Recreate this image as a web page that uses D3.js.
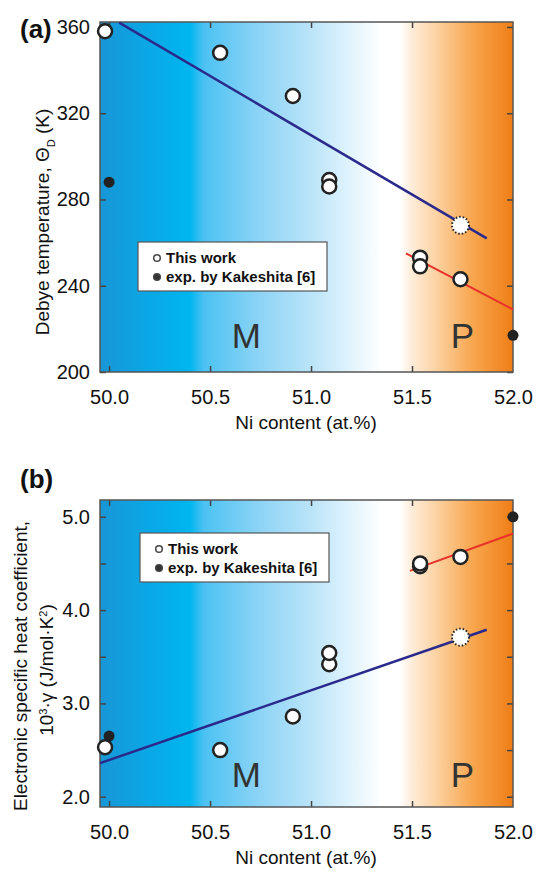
<!DOCTYPE html>
<html>
<head>
<meta charset="utf-8">
<script src="https://cdn.jsdelivr.net/npm/d3@7"></script>
<style>
  body { margin: 0; background: #fff; }
  svg { display: block; font-family: "Liberation Sans", Arial, sans-serif; }
</style>
</head>
<body>
<div id="chart"></div>
<script>
// données : [Ni at.%, valeur]
const niTicks = [50.0, 50.5, 51.0, 51.5, 52.0];

// (a) température de Debye
const thetaTicks = [200, 240, 280, 320, 360];
const thetaThisWork = [[49.98, 358], [50.55, 348], [50.91, 328], [51.09, 289], [51.09, 286],
                       [51.54, 253], [51.54, 249], [51.74, 243]];
const thetaEstimate = [[51.74, 268]];
const thetaKakeshita = [[50.0, 288], [52.0, 217]];
const thetaFitM = [[50.05, 362], [51.87, 262]];
const thetaFitP = [[51.47, 255], [52.0, 229]];

// (b) coefficient de chaleur spécifique électronique
const gammaTicks = [2.0, 2.5, 3.0, 3.5, 4.0, 4.5, 5.0];
const gammaThisWork = [[49.98, 2.53], [50.55, 2.50], [50.91, 2.86], [51.09, 3.42], [51.09, 3.54],
                       [51.54, 4.47], [51.54, 4.50], [51.74, 4.57]];
const gammaEstimate = [[51.74, 3.71]];
const gammaKakeshita = [[50.0, 2.65], [52.0, 5.0]];
const gammaFitM = [[49.955, 2.36], [51.87, 3.79]];
const gammaFitP = [[51.49, 4.42], [52.0, 4.82]];

const legendLabels = ["This work", "exp. by Kakeshita [6]"];

const width = 536, height = 873;
const svg = d3.select("#chart").append("svg")
  .attr("width", width).attr("height", height);

// dégradé martensite (bleu) -> austénite (orange), positions en Ni %
const gradStops = [
  [49.955, "#1896d6"], [50.2, "#0aa8e6"], [50.4, "#00b6ef"], [50.47, "#4cc2f2"],
  [50.75, "#8ed4f6"], [51.0, "#bae4f9"], [51.2, "#e2f4fd"], [51.35, "#ffffff"],
  [51.44, "#ffffff"], [51.5, "#feecd8"], [51.62, "#fcd2a2"], [51.8, "#f8a64e"],
  [52.0, "#ef7e16"]
];

function drawPanel(cfg) {
  const x = d3.scaleLinear().domain([49.955, 52.0]).range([100, 513]);
  const y = d3.scaleLinear().domain(cfg.yDomain).range([cfg.bottom, cfg.top]);
  const g = svg.append("g");

  const grad = svg.append("defs").append("linearGradient")
    .attr("id", cfg.id + "-grad")
    .attr("gradientUnits", "userSpaceOnUse")
    .attr("x1", x.range()[0]).attr("x2", x.range()[1]).attr("y1", 0).attr("y2", 0);
  grad.selectAll("stop").data(gradStops).join("stop")
    .attr("offset", d => (x(d[0]) - x.range()[0]) / (x.range()[1] - x.range()[0]))
    .attr("stop-color", d => d[1]);

  g.append("rect")
    .attr("x", x.range()[0]).attr("y", cfg.top)
    .attr("width", x.range()[1] - x.range()[0]).attr("height", cfg.bottom - cfg.top)
    .attr("fill", `url(#${cfg.id}-grad)`);

  // ticks vers l'intérieur
  const tickLen = 6;
  const axisStyle = sel => {
    sel.select(".domain").remove();
    sel.selectAll("line").attr("stroke", "#444").attr("stroke-width", 1.5);
    sel.selectAll("text").attr("font-size", 20).attr("fill", "#111");
  };
  g.append("g").attr("transform", `translate(0,${cfg.bottom})`)
    .call(d3.axisBottom(x).tickValues(niTicks).tickSizeInner(-tickLen).tickPadding(18)
      .tickFormat(d3.format(".1f")))
    .call(axisStyle)
    .call(sel => sel.selectAll(".tick").filter(d => d === 52.0).select("line").remove());
  g.append("g").attr("transform", `translate(0,${cfg.top})`)
    .call(d3.axisTop(x).tickValues(niTicks.slice(0, 4)).tickSizeInner(-tickLen).tickFormat(""))
    .call(axisStyle);
  g.append("g").attr("transform", `translate(${x.range()[0]},0)`)
    .call(d3.axisLeft(y).tickValues(cfg.yTicks).tickSizeInner(-tickLen).tickPadding(10)
      .tickFormat(d => cfg.yLabels.includes(d) ? cfg.yFormat(d) : ""))
    .call(axisStyle);
  g.append("g").attr("transform", `translate(${x.range()[1]},0)`)
    .call(d3.axisRight(y).tickValues(cfg.yTicks).tickSizeInner(-tickLen).tickFormat(""))
    .call(axisStyle);

  g.append("rect")
    .attr("x", x.range()[0]).attr("y", cfg.top)
    .attr("width", x.range()[1] - x.range()[0]).attr("height", cfg.bottom - cfg.top)
    .attr("fill", "none").attr("stroke", "#555").attr("stroke-width", 1.5);

  // étiquettes de phase
  g.append("text").attr("x", x(50.68)).attr("y", y(cfg.phaseY))
    .attr("text-anchor", "middle").attr("font-size", 35).attr("fill", "#333").text("M");
  g.append("text").attr("x", x(51.75)).attr("y", y(cfg.phaseY))
    .attr("text-anchor", "middle").attr("font-size", 35).attr("fill", "#333").text("P");

  // droites d'ajustement
  const line = d3.line().x(d => x(d[0])).y(d => y(d[1]));
  g.append("path").datum(cfg.fitM).attr("d", line)
    .attr("fill", "none").attr("stroke", "#2a2a8c").attr("stroke-width", 2.5);
  g.append("path").datum(cfg.fitP).attr("d", line)
    .attr("fill", "none").attr("stroke", "#e8322a").attr("stroke-width", 2);

  // points
  g.selectAll(null).data(cfg.kakeshita).join("circle")
    .attr("cx", d => x(d[0])).attr("cy", d => y(d[1])).attr("r", 5.5).attr("fill", "#222");
  g.selectAll(null).data(cfg.thisWork).join("circle")
    .attr("cx", d => x(d[0])).attr("cy", d => y(d[1])).attr("r", 7)
    .attr("fill", "#fff").attr("stroke", "#222").attr("stroke-width", 2.5);
  g.selectAll(null).data(cfg.estimate).join("circle")
    .attr("cx", d => x(d[0])).attr("cy", d => y(d[1])).attr("r", 8.5)
    .attr("fill", "#fff").attr("stroke", "#222").attr("stroke-width", 2)
    .attr("stroke-dasharray", "1.5,2");

  // légende
  const lg = g.append("g").attr("transform", `translate(${cfg.legend[0]},${cfg.legend[1]})`);
  lg.append("rect").attr("width", 189).attr("height", 49)
    .attr("fill", "#fff").attr("stroke", "#555").attr("stroke-width", 1.2);
  lg.selectAll(null).data(legendLabels).join("circle")
    .attr("cx", 19).attr("cy", (d, i) => 16 + i * 19).attr("r", 3.3)
    .attr("fill", (d, i) => i === 0 ? "#fff" : "#333")
    .attr("stroke", "#444").attr("stroke-width", 1.5);
  lg.selectAll(null).data(legendLabels).join("text")
    .attr("x", 28).attr("y", (d, i) => 21 + i * 19)
    .attr("font-size", 15).attr("font-weight", "bold").attr("fill", "#111")
    .text(d => d);

  // titres
  g.append("text").attr("x", 306).attr("y", cfg.bottom + 57)
    .attr("text-anchor", "middle").attr("font-size", 19).attr("fill", "#111")
    .text("Ni content (at.%)");
  g.append("text").attr("x", 20).attr("y", cfg.labelY)
    .attr("font-size", 26).attr("font-weight", "bold").attr("fill", "#111")
    .text(cfg.label);

  return g;
}

const ga = drawPanel({
  id: "a", top: 22, bottom: 372, yDomain: [200, 362.3],
  yTicks: thetaTicks, yLabels: thetaTicks, yFormat: d3.format("d"),
  phaseY: 211, fitM: thetaFitM, fitP: thetaFitP,
  thisWork: thetaThisWork, estimate: thetaEstimate, kakeshita: thetaKakeshita,
  legend: [138, 242], label: "(a)", labelY: 38
});
const ta = ga.append("text").attr("transform", "translate(49,222) rotate(-90)")
  .attr("text-anchor", "middle").attr("font-size", 19).attr("fill", "#111");
ta.append("tspan").text("Debye temperature, Θ");
ta.append("tspan").attr("font-size", 11).attr("baseline-shift", "sub").text("D");
ta.append("tspan").text(" (K)");

const gb = drawPanel({
  id: "b", top: 500, bottom: 807, yDomain: [1.89, 5.18],
  yTicks: gammaTicks, yLabels: [2, 3, 4, 5], yFormat: d3.format(".1f"),
  phaseY: 2.1, fitM: gammaFitM, fitP: gammaFitP,
  thisWork: gammaThisWork, estimate: gammaEstimate, kakeshita: gammaKakeshita,
  legend: [140, 533], label: "(b)", labelY: 488
});
gb.append("text").attr("transform", "translate(27,666) rotate(-90)")
  .attr("text-anchor", "middle").attr("font-size", 19).attr("fill", "#111")
  .text("Electronic specific heat coefficient,");
const tb = gb.append("text").attr("transform", "translate(53,670) rotate(-90)")
  .attr("text-anchor", "middle").attr("font-size", 19).attr("fill", "#111");
tb.append("tspan").text("10");
tb.append("tspan").attr("font-size", 11).attr("baseline-shift", "super").text("3");
tb.append("tspan").text("·γ (J/mol·K");
tb.append("tspan").attr("font-size", 11).attr("baseline-shift", "super").text("2");
tb.append("tspan").text(")");
</script>
</body>
</html>
